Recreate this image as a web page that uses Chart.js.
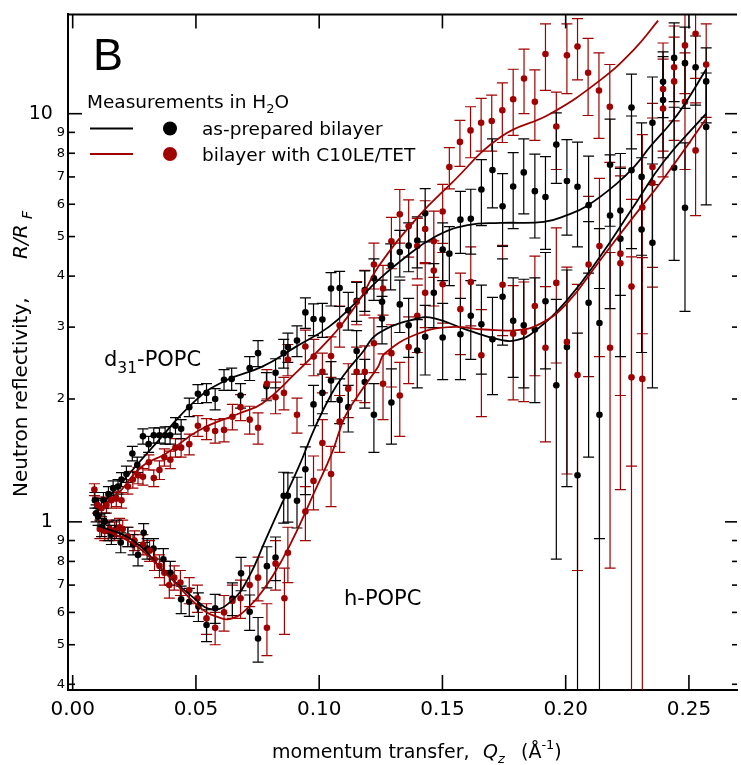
<!DOCTYPE html>
<html>
<head>
<meta charset="utf-8">
<style>
html, body { margin: 0; padding: 0; background: #fff; }
#wrap { width: 741px; height: 765px; }
</style>
<script src="https://cdn.jsdelivr.net/npm/chart.js@4.4.1/dist/chart.umd.min.js"></script>
</head>
<body>
<div id="wrap"><canvas id="myChart" width="741" height="765"></canvas></div>
<script>
const FONT = '"DejaVu Sans", sans-serif'
const BLACK = '#000'
const RED = '#a00000'

// axis ticks
const xTicks = [0, 0.05, 0.10, 0.15, 0.20, 0.25]
const yMajor = [1, 10]
const yTicks = [0.4, 0.5, 0.6, 0.7, 0.8, 0.9, 1, 2, 3, 4, 5, 6, 7, 8, 9, 10]

// d31-POPC, as-prepared bilayer
const d31PrepQ = [0.0090, 0.0105, 0.0125, 0.0145, 0.0164, 0.0184, 0.0198, 0.0218, 0.0242, 0.0262, 0.0285, 0.0308, 0.0329, 0.0352, 0.0375, 0.0395, 0.0417, 0.0440, 0.0473, 0.0508, 0.0543, 0.0578, 0.0614, 0.0645, 0.0681, 0.0718, 0.0752, 0.0786, 0.0823, 0.0856, 0.0873, 0.0910, 0.0944, 0.0977, 0.1013, 0.1048, 0.1083, 0.1118, 0.1152, 0.1185, 0.1222, 0.1255, 0.1290, 0.1327, 0.1363, 0.1398, 0.1430, 0.1501, 0.1528, 0.1573, 0.1615, 0.1658, 0.1703, 0.1744, 0.1787, 0.1830, 0.1875, 0.1918, 0.1962, 0.2005, 0.2048, 0.2093, 0.2137, 0.2180, 0.2222, 0.2267, 0.2308, 0.2352, 0.2395, 0.2440, 0.2484, 0.2527, 0.2570]
const d31PrepR = [1.13, 1.09, 1.13, 1.17, 1.21, 1.22, 1.27, 1.31, 1.47, 1.38, 1.62, 1.55, 1.63, 1.63, 1.63, 1.63, 1.72, 1.69, 1.91, 2.06, 2.07, 2.00, 2.23, 2.24, 2.04, 2.38, 2.59, 2.15, 2.32, 2.59, 2.68, 2.78, 3.26, 3.14, 3.13, 3.73, 3.74, 3.30, 3.48, 3.70, 3.95, 3.46, 4.25, 4.58, 4.75, 4.89, 5.70, 4.65, 4.54, 5.50, 5.53, 6.52, 7.28, 5.93, 6.63, 7.18, 6.46, 6.25, 8.40, 6.84, 6.62, 5.97, 3.07, 7.50, 5.79, 10.35, 7.00, 9.50, 11.98, 13.70, 13.30, 13.00, 12.00]
const d31PrepErr = [0.05, 0.05, 0.05, 0.05, 0.05, 0.05, 0.05, 0.06, 0.06, 0.06, 0.07, 0.07, 0.07, 0.07, 0.08, 0.08, 0.08, 0.09, 0.10, 0.11, 0.11, 0.12, 0.13, 0.14, 0.14, 0.16, 0.19, 0.17, 0.19, 0.21, 0.22, 0.24, 0.28, 0.28, 0.30, 0.35, 0.37, 0.35, 0.38, 0.42, 0.46, 0.45, 0.55, 0.60, 0.65, 0.70, 0.85, 0.75, 0.75, 0.95, 1.0, 1.2, 1.4, 1.2, 1.4, 1.5, 1.5, 1.6, 1.65, 1.8, 1.9, 1.9, 2.16, 2.2, 2.2, 2.15, 2.5, 2.8, 2.2, 3.0, 3.0, 2.5, 2.5]

// h-POPC, as-prepared bilayer
const hPrepQ = [0.0095, 0.0103, 0.0117, 0.0130, 0.0144, 0.0157, 0.0177, 0.0195, 0.0224, 0.0245, 0.0265, 0.0288, 0.0302, 0.0328, 0.0368, 0.0396, 0.0440, 0.0473, 0.0510, 0.0543, 0.0578, 0.0648, 0.0683, 0.0718, 0.0752, 0.0788, 0.0823, 0.0856, 0.0873, 0.0910, 0.0944, 0.0977, 0.1013, 0.1048, 0.1083, 0.1118, 0.1152, 0.1185, 0.1222, 0.1255, 0.1293, 0.1327, 0.1363, 0.1398, 0.1430, 0.1465, 0.1501, 0.1573, 0.1615, 0.1658, 0.1703, 0.1744, 0.1787, 0.1830, 0.1875, 0.1918, 0.1962, 0.2005, 0.2048, 0.2093, 0.2137, 0.2180, 0.2222, 0.2267, 0.2308, 0.2352, 0.2395, 0.2440, 0.2484, 0.2570]
const hPrepR = [1.05, 1.03, 0.97, 1.00, 0.95, 0.93, 0.96, 0.89, 0.92, 0.88, 0.83, 0.94, 0.86, 0.86, 0.81, 0.75, 0.646, 0.637, 0.62, 0.559, 0.614, 0.649, 0.748, 0.602, 0.518, 0.779, 0.818, 1.158, 1.158, 1.126, 1.346, 1.94, 2.07, 2.22, 1.99, 1.91, 2.62, 2.20, 1.83, 3.15, 1.96, 3.41, 3.03, 2.63, 2.84, 3.64, 2.83, 2.88, 3.20, 3.05, 2.80, 3.56, 3.11, 3.03, 2.96, 3.47, 2.16, 2.68, 1.30, 3.44, 1.83, 5.63, 4.94, 7.27, 5.20, 4.83, 10.8, 7.37, 5.88, 9.28]
const hPrepErr = [0.05, 0.05, 0.05, 0.05, 0.05, 0.05, 0.05, 0.05, 0.05, 0.05, 0.05, 0.05, 0.05, 0.05, 0.05, 0.05, 0.05, 0.05, 0.05, 0.05, 0.05, 0.06, 0.07, 0.06, 0.065, 0.09, 0.10, 0.165, 0.16, 0.16, 0.18, 0.22, 0.23, 0.25, 0.25, 0.25, 0.32, 0.30, 0.35, 0.42, 0.41, 0.5, 0.5, 0.5, 0.55, 0.65, 0.6, 0.65, 0.7, 0.75, 0.75, 0.85, 0.85, 0.9, 1.0, 1.1, 1.35, 1.46, 1.6, 2.0, 1.9, 2.3, 2.4, 2.6, 2.6, 2.7, 3.0, 3.0, 2.6, 3.3]

// d31-POPC, bilayer with C10LE/TET
const d31TetQ = [0.0088, 0.0101, 0.0117, 0.0137, 0.0157, 0.0177, 0.0198, 0.0224, 0.0244, 0.0265, 0.0285, 0.0309, 0.0329, 0.0352, 0.0372, 0.0396, 0.0417, 0.0440, 0.0473, 0.0508, 0.0543, 0.0578, 0.0614, 0.0648, 0.0681, 0.0718, 0.0752, 0.0788, 0.0823, 0.0857, 0.0873, 0.0910, 0.0944, 0.0978, 0.1013, 0.1048, 0.1083, 0.1152, 0.1185, 0.1222, 0.1259, 0.1293, 0.1327, 0.1363, 0.1398, 0.1430, 0.1465, 0.1501, 0.1528, 0.1571, 0.1614, 0.1657, 0.1700, 0.1743, 0.1787, 0.1831, 0.1875, 0.1918, 0.1962, 0.2005, 0.2048, 0.2091, 0.2135, 0.2179, 0.2222, 0.2267, 0.2311, 0.2352, 0.2395, 0.2440, 0.2484, 0.2527, 0.2570]
const d31TetR = [1.20, 1.10, 1.08, 1.10, 1.13, 1.14, 1.13, 1.22, 1.27, 1.30, 1.29, 1.40, 1.28, 1.34, 1.44, 1.42, 1.52, 1.52, 1.55, 1.72, 1.69, 1.67, 1.68, 1.81, 1.91, 1.78, 1.70, 2.18, 2.02, 2.07, 2.50, 1.83, 2.69, 2.54, 2.33, 2.55, 3.03, 3.46, 3.67, 4.27, 3.73, 4.87, 5.67, 5.30, 4.74, 5.22, 4.87, 5.76, 7.40, 8.53, 9.10, 9.50, 9.60, 10.2, 10.85, 12.2, 10.7, 14.0, 9.30, 13.9, 14.6, 12.6, 11.4, 10.4, 4.54, 3.77, 5.89, 7.40, 11.5, 13.0, 14.7, 15.7, 13.2]
const d31TetErr = [0.04, 0.05, 0.05, 0.05, 0.05, 0.05, 0.05, 0.05, 0.06, 0.06, 0.06, 0.06, 0.06, 0.07, 0.07, 0.07, 0.08, 0.08, 0.09, 0.10, 0.10, 0.11, 0.11, 0.13, 0.14, 0.14, 0.15, 0.18, 0.18, 0.19, 0.22, 0.18, 0.26, 0.26, 0.26, 0.29, 0.35, 0.42, 0.46, 0.55, 0.52, 0.70, 0.85, 0.85, 0.80, 0.90, 0.90, 0.95, 0.86, 1.1, 1.3, 1.4, 1.5, 1.7, 2.0, 2.2, 2.1, 2.6, 2.0, 2.7, 2.5, 2.7, 2.7, 2.8, 2.5, 2.4, 3.0, 3.2, 3.4, 3.4, 3.5, 3.5, 3.4]

// h-POPC, bilayer with C10LE/TET
const hTetQ = [0.0110, 0.0130, 0.0150, 0.0170, 0.0190, 0.0203, 0.0224, 0.0251, 0.0285, 0.0312, 0.0332, 0.0352, 0.0372, 0.0392, 0.0412, 0.0437, 0.0473, 0.0506, 0.0543, 0.0578, 0.0614, 0.0648, 0.0681, 0.0718, 0.0752, 0.0788, 0.0823, 0.0859, 0.0873, 0.0944, 0.0977, 0.1013, 0.1048, 0.1083, 0.1118, 0.1152, 0.1185, 0.1222, 0.1259, 0.1293, 0.1327, 0.1363, 0.1398, 0.1430, 0.1465, 0.1501, 0.1573, 0.1615, 0.1658, 0.1744, 0.1787, 0.1830, 0.1875, 0.1918, 0.1962, 0.2005, 0.2048, 0.2093, 0.2137, 0.2180, 0.2222, 0.2267, 0.2311, 0.2352, 0.2395, 0.2440, 0.2484, 0.2527]
const hTetR = [0.96, 0.95, 0.96, 0.95, 0.97, 0.96, 0.92, 0.90, 0.88, 0.85, 0.81, 0.78, 0.75, 0.70, 0.73, 0.71, 0.68, 0.65, 0.58, 0.55, 0.60, 0.64, 0.65, 0.70, 0.73, 0.55, 0.79, 0.65, 0.84, 1.06, 1.26, 1.56, 1.31, 1.76, 2.12, 2.33, 2.33, 2.74, 2.18, 2.59, 2.04, 2.68, 3.20, 3.64, 4.13, 3.82, 3.32, 3.87, 2.56, 3.81, 2.89, 2.92, 3.38, 2.67, 3.85, 2.76, 2.29, 4.27, 4.74, 2.67, 4.30, 2.26, 2.24, 6.76, 10.3, 12.0, 10.7, 8.13]
const hTetErr = [0.05, 0.05, 0.05, 0.05, 0.05, 0.05, 0.05, 0.05, 0.05, 0.05, 0.05, 0.05, 0.05, 0.05, 0.05, 0.05, 0.05, 0.05, 0.05, 0.05, 0.06, 0.06, 0.07, 0.08, 0.09, 0.08, 0.11, 0.12, 0.13, 0.16, 0.19, 0.22, 0.22, 0.28, 0.32, 0.35, 0.37, 0.42, 0.40, 0.45, 0.42, 0.50, 0.60, 0.65, 0.75, 0.75, 0.75, 0.85, 0.75, 0.95, 0.9, 0.95, 1.1, 1.1, 1.4, 1.45, 1.53, 2.0, 2.2, 1.9, 3.1, 2.2, 2.2, 3.0, 3.3, 3.4, 3.4, 2.5]

// model fits
const d31PrepFitQ = [0.0125, 0.0171, 0.0325, 0.0500, 0.0621, 0.0769, 0.0903, 0.1038, 0.1145, 0.1239, 0.1333, 0.1468, 0.1602, 0.1736, 0.1911, 0.2005, 0.2086, 0.2207, 0.2287, 0.2341, 0.2422, 0.2476, 0.2570]
const d31PrepFitR = [1.12, 1.196, 1.526, 1.987, 2.22, 2.40, 2.68, 3.00, 3.43, 3.91, 4.37, 4.99, 5.33, 5.40, 5.43, 5.64, 5.94, 6.74, 7.52, 8.28, 9.41, 10.4, 12.85]
const d31TetFitQ = [0.0140, 0.0184, 0.0278, 0.0379, 0.0513, 0.0675, 0.0769, 0.0903, 0.1038, 0.1105, 0.1172, 0.1239, 0.1400, 0.1535, 0.1736, 0.1938, 0.2139, 0.2274, 0.2375]
const d31TetFitR = [1.13, 1.174, 1.363, 1.471, 1.677, 1.843, 1.95, 2.31, 2.79, 3.12, 3.56, 4.21, 5.58, 6.74, 8.77, 10.0, 12.07, 14.3, 16.9]
const hPrepFitQ = [0.0097, 0.0244, 0.0379, 0.0486, 0.0567, 0.0648, 0.0715, 0.0782, 0.0849, 0.0917, 0.0984, 0.1051, 0.1105, 0.1172, 0.1239, 0.1400, 0.1468, 0.1602, 0.1736, 0.1804, 0.1871, 0.2005, 0.2139, 0.2274, 0.2402, 0.2570]
const hPrepFitR = [0.98, 0.902, 0.747, 0.655, 0.610, 0.643, 0.733, 0.902, 1.11, 1.363, 1.709, 2.063, 2.31, 2.585, 2.893, 3.15, 3.15, 2.95, 2.79, 2.79, 2.92, 3.49, 4.46, 5.91, 7.69, 10.0]
const hTetFitQ = [0.0110, 0.0244, 0.0379, 0.0513, 0.0594, 0.0648, 0.0715, 0.0782, 0.0849, 0.0917, 0.0984, 0.1051, 0.1105, 0.1172, 0.1239, 0.1266, 0.1400, 0.1535, 0.1669, 0.1804, 0.1898, 0.2005, 0.2139, 0.2274, 0.2402, 0.2570]
const hTetFitR = [0.963, 0.885, 0.747, 0.619, 0.583, 0.580, 0.619, 0.693, 0.806, 0.972, 1.196, 1.471, 1.81, 2.10, 2.40, 2.585, 2.89, 3.00, 2.96, 2.95, 3.06, 3.43, 4.37, 5.58, 7.0, 9.72]

const pts = (qs, rs) => qs.map((q, i) => ({ x: q, y: rs[i] }))

const fit = (qs, rs, color) => ({
    data: pts(qs, rs),
    showLine: true,
    borderColor: color,
    borderWidth: 1.8,
    pointRadius: 0,
    tension: 0.45
})

const measured = (qs, rs, errs, color) => ({
    data: pts(qs, rs),
    errors: errs,
    barColor: color,
    showLine: false,
    pointRadius: 3.3,
    pointBackgroundColor: color,
    pointBorderWidth: 0
})

// text pieces drawn one after another; "at" places a piece at a fixed offset
const drawParts = (ctx, x0, y, parts) => {
    let x = x0
    parts.forEach(p => {
        if (p.at !== undefined) x = x0 + p.at
        ctx.font = p.font
        ctx.fillText(p.t, x, y + (p.dy || 0))
        x += ctx.measureText(p.t).width
    })
}

const errorBars = {
    id: 'errorBars',
    beforeDatasetsDraw(chart) {
        const { ctx, chartArea: a } = chart
        const y = chart.scales.y
        ctx.save()
        ctx.beginPath()
        ctx.rect(a.left, a.top, a.right - a.left, a.bottom - a.top)
        ctx.clip()
        ctx.lineWidth = 1.2
        chart.data.datasets.forEach((ds, i) => {
            if (!ds.errors) return
            ctx.strokeStyle = ds.barColor
            chart.getDatasetMeta(i).data.forEach((pt, j) => {
                const v = ds.data[j].y
                const e = ds.errors[j]
                const top = y.getPixelForValue(v + e)
                const low = v - e
                const hasLow = low > y.min
                const bot = hasLow ? y.getPixelForValue(low) : a.bottom + 5
                ctx.beginPath()
                ctx.moveTo(pt.x, top)
                ctx.lineTo(pt.x, bot)
                ctx.moveTo(pt.x - 5.5, top)
                ctx.lineTo(pt.x + 5.5, top)
                if (hasLow) {
                    ctx.moveTo(pt.x - 5.5, bot)
                    ctx.lineTo(pt.x + 5.5, bot)
                }
                ctx.stroke()
            })
        })
        ctx.restore()
    }
}

const decorations = {
    id: 'decorations',
    afterDraw(chart) {
        const { ctx, chartArea: a } = chart
        const x = chart.scales.x
        const y = chart.scales.y
        const line = (x1, y1, x2, y2) => {
            ctx.beginPath()
            ctx.moveTo(x1, y1)
            ctx.lineTo(x2, y2)
            ctx.stroke()
        }
        ctx.save()
        ctx.strokeStyle = BLACK
        ctx.fillStyle = BLACK

        // frame top and inward ticks
        ctx.lineWidth = 2
        line(a.left - 1, a.top, a.right, a.top)
        ctx.lineWidth = 1.6
        xTicks.forEach(v => {
            const px = x.getPixelForValue(v)
            line(px, a.bottom, px, a.bottom - 15)
            line(px, a.top, px, a.top + 14)
        })
        yTicks.forEach(v => {
            const py = y.getPixelForValue(v)
            const major = yMajor.includes(v)
            line(a.left, py, a.left + (major ? 14 : 7), py)
            line(a.right, py, a.right - (major ? 12 : 5), py)
        })

        // panel letter
        ctx.textBaseline = 'alphabetic'
        ctx.textAlign = 'left'
        ctx.font = '45px "Liberation Sans", sans-serif'
        ctx.fillText('B', 93, 70)

        // legend
        const f = '18.5px ' + FONT
        const fs = '13px ' + FONT
        drawParts(ctx, 87, 107.5, [
            { t: 'Measurements in H', font: f },
            { t: '2', font: fs, dy: 5 },
            { t: 'O', font: f }
        ])
        ctx.lineWidth = 2
        ctx.strokeStyle = BLACK
        line(90, 128.5, 133, 128.5)
        ctx.strokeStyle = RED
        line(90, 154, 133, 154)
        ctx.beginPath()
        ctx.arc(170, 128.5, 7, 0, Math.PI * 2)
        ctx.fillStyle = BLACK
        ctx.fill()
        ctx.beginPath()
        ctx.arc(170, 154, 7, 0, Math.PI * 2)
        ctx.fillStyle = RED
        ctx.fill()
        ctx.fillStyle = BLACK
        ctx.font = f
        ctx.fillText('as-prepared bilayer', 202, 135)
        ctx.fillText('bilayer with C10LE/TET', 202, 160.5)

        // curve labels
        const fl = '21px ' + FONT
        drawParts(ctx, 104, 365.5, [
            { t: 'd', font: fl },
            { t: '31', font: '15.5px ' + FONT, dy: 7 },
            { t: '-POPC', font: fl }
        ])
        ctx.font = fl
        ctx.fillText('h-POPC', 344, 605)

        // axis titles
        const ft = '19px ' + FONT
        const fi = 'italic 19px ' + FONT
        drawParts(ctx, 272, 758, [
            { t: 'momentum transfer,', font: ft },
            { t: 'Q', font: fi, at: 211 },
            { t: 'z', font: 'italic 13px ' + FONT, dy: 5 },
            { t: '(Å', font: ft, at: 249 },
            { t: '-1', font: '13px ' + FONT, dy: -9 },
            { t: ')', font: ft }
        ])
        ctx.translate(27, 497)
        ctx.rotate(-Math.PI / 2)
        drawParts(ctx, 0, 0, [
            { t: 'Neutron reflectivity,', font: '20px ' + FONT },
            { t: 'R/R', font: 'italic 20px ' + FONT, at: 238 },
            { t: 'F', font: 'italic 14px ' + FONT, dy: 5, at: 278 }
        ])
        ctx.restore()
    }
}

new Chart(document.getElementById('myChart'), {
    type: 'scatter',
    data: {
        datasets: [
            fit(d31TetFitQ, d31TetFitR, RED),
            fit(hTetFitQ, hTetFitR, RED),
            fit(d31PrepFitQ, d31PrepFitR, BLACK),
            fit(hPrepFitQ, hPrepFitR, BLACK),
            measured(d31TetQ, d31TetR, d31TetErr, RED),
            measured(hTetQ, hTetR, hTetErr, RED),
            measured(d31PrepQ, d31PrepR, d31PrepErr, BLACK),
            measured(hPrepQ, hPrepR, hPrepErr, BLACK)
        ]
    },
    options: {
        responsive: false,
        animation: false,
        devicePixelRatio: 1,
        layout: { padding: { top: 14, left: 0, right: 0, bottom: 0 } },
        plugins: {
            legend: { display: false },
            tooltip: { enabled: false }
        },
        scales: {
            x: {
                type: 'linear',
                min: -0.0019,
                max: 0.2695,
                afterBuildTicks: s => { s.ticks = xTicks.map(v => ({ value: v })) },
                afterFit: s => { s.height = 75 },
                ticks: {
                    autoSkip: false,
                    maxRotation: 0,
                    padding: 8,
                    color: BLACK,
                    font: { family: FONT, size: 20 },
                    callback: v => v.toFixed(2)
                },
                grid: { display: false, drawTicks: false },
                border: { display: true, color: BLACK, width: 2 }
            },
            y: {
                type: 'logarithmic',
                min: 0.3873,
                max: 17.51,
                afterBuildTicks: s => { s.ticks = yTicks.map(v => ({ value: v })) },
                afterFit: s => { s.width = 68 },
                ticks: {
                    autoSkip: false,
                    padding: 3,
                    color: BLACK,
                    font: c => ({ family: FONT, size: yMajor.includes(c.tick && c.tick.value) ? 19 : 13 }),
                    callback: v => yMajor.includes(v) ? v + '  ' : String(v >= 1 ? v : Math.round(v * 10))
                },
                grid: { display: false, drawTicks: false },
                border: { display: true, color: BLACK, width: 2 }
            }
        }
    },
    plugins: [errorBars, decorations]
})
</script>
</body>
</html>
